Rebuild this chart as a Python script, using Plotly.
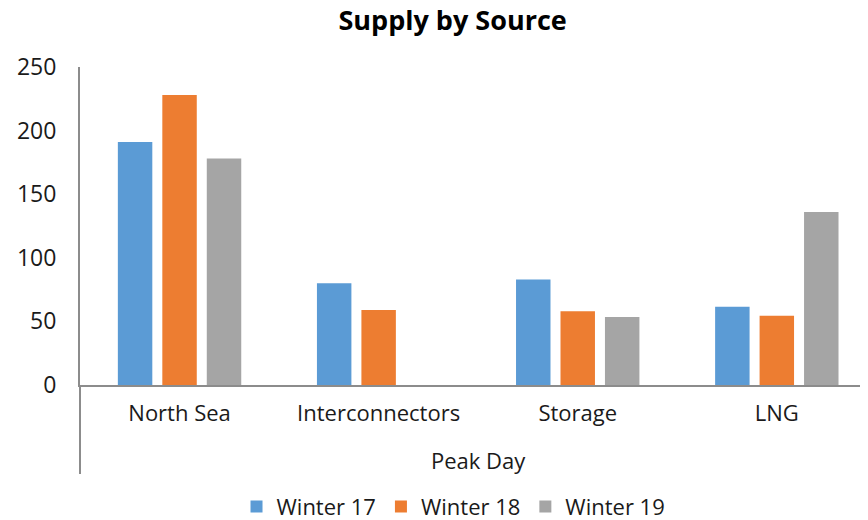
import plotly.graph_objects as go

# data
group_label = "Peak Day"
sources = ["North Sea", "Interconnectors", "Storage", "LNG"]
winter_17 = [191, 80, 83, 61.5]
winter_18 = [228, 59, 58, 54.5]
winter_19 = [178, None, 53.5, 136]

series = [
    ("Winter 17", winter_17, "#5B9BD5"),
    ("Winter 18", winter_18, "#ED7D31"),
    ("Winter 19", winter_19, "#A5A5A5"),
]

FONT = dict(family="Open Sans, Noto Sans, sans-serif", color="#1a1a1a", size=22)
AXIS_GREY = "#8c8c8c"

fig = go.Figure()
for name, vals, color in series:
    fig.add_trace(
        go.Bar(
            x=sources,
            y=vals,
            name=name,
            marker=dict(color=color, line=dict(width=0)),
        )
    )

# outer category label + divider line like a two-level axis
fig.add_annotation(
    text=group_label,
    xref="x",
    yref="paper",
    x=1.5,
    y=-0.236,
    yanchor="middle",
    showarrow=False,
    font=dict(size=22),
)
fig.add_shape(
    type="line",
    xref="paper",
    yref="paper",
    x0=0,
    x1=0,
    y0=0,
    y1=-0.28,
    line=dict(color=AXIS_GREY, width=2),
)

# page body has an 8px margin, so the figure is sized to fit inside the window
fig.update_layout(
    width=860,
    height=512,
    font=FONT,
    title=dict(
        text="<b>Supply by Source</b>",
        font=dict(size=27, family="Open Sans, sans-serif", color="#000000"),
        x=0.517,
        xanchor="center",
        yref="container",
        y=0.975,
        yanchor="middle",
        automargin=False,
    ),
    barmode="group",
    bargap=0.33,
    bargroupgap=0.225,
    paper_bgcolor="white",
    plot_bgcolor="white",
    margin=dict(l=72, r=0, t=59, b=135),
    showlegend=True,
    legend=dict(
        orientation="h",
        x=0.474,
        xanchor="center",
        yref="container",
        y=0.026,
        yanchor="middle",
        font=dict(size=22),
        itemwidth=30,
        traceorder="normal",
    ),
)

fig.update_xaxes(
    range=[-0.5, 3.458],
    showline=True,
    linecolor=AXIS_GREY,
    linewidth=2,
    showgrid=False,
    ticks="",
    ticklabelstandoff=8,
    automargin=False,
)
fig.update_yaxes(
    range=[0, 250],
    dtick=50,
    showline=True,
    linecolor=AXIS_GREY,
    linewidth=2,
    showgrid=False,
    zeroline=False,
    ticks="",
    ticklabelstandoff=17,
    tickfont=dict(size=23),
    automargin=False,
)

fig.write_html("out.html")
